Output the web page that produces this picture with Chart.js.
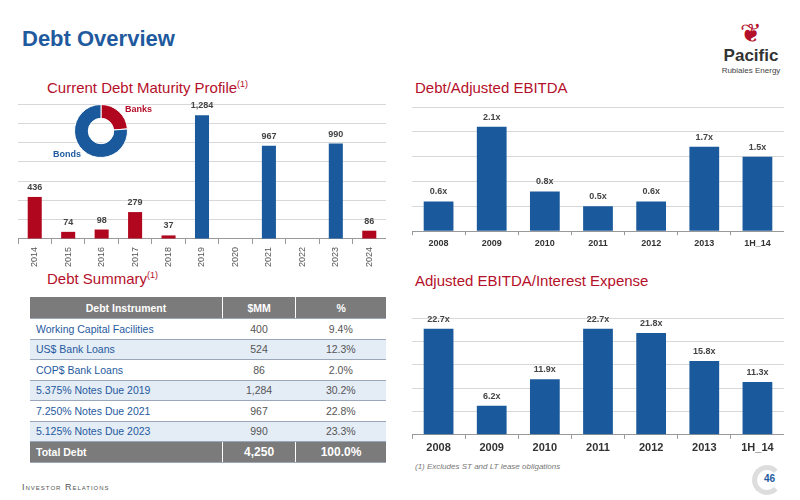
<!DOCTYPE html>
<html>
<head>
<meta charset="utf-8">
<script src="https://cdn.jsdelivr.net/npm/chart.js@4"></script>
<style>
  body { margin: 0; width: 800px; height: 500px; background: #fff; font-family: Arial, "Liberation Sans", sans-serif; position: relative; overflow: hidden; }
  .abs { position: absolute; }
  h1 { position: absolute; left: 22px; top: 26px; margin: 0; font-size: 22px; color: #1f5a9e; font-weight: bold; }
  .sub { position: absolute; font-size: 15px; color: #b5102a; }
  .sub sup { font-size: 9px; }
  table { position: absolute; left: 30px; top: 297px; width: 356px; border-collapse: collapse; font-size: 10.5px; }
  td, th { height: 19.5px; padding: 0 6px; border-bottom: 1px solid #9aa7b8; }
  th { background: #7b7b7b; color: #fff; font-weight: bold; height: 21px; border-right: 1px solid #fff; }
  td { color: #555; text-align: center; }
  td.n { color: #1f5a9e; text-align: left; }
  tr:nth-child(odd) td { background: #e4ecf5; }
  tr.tot td { background: #7b7b7b; color: #fff; font-weight: bold; border-right: 1px solid #fff; }
</style>
</head>
<body>
<h1>Debt Overview</h1>
<div class="abs" style="left:716px;top:20px;width:70px;text-align:center;">
  <div style="font-size:26px;color:#b5102a;line-height:26px;">&#x2766;</div>
  <div style="font-size:17px;font-weight:bold;color:#333;">Pacific</div>
  <div style="font-size:8px;color:#444;">Rubiales Energy</div>
</div>
<div class="sub" style="left:47px;top:79px;">Current Debt Maturity Profile<sup>(1)</sup></div>
<div class="sub" style="left:415px;top:79px;">Debt/Adjusted EBITDA</div>
<div class="sub" style="left:47px;top:270px;">Debt Summary<sup>(1)</sup></div>
<div class="sub" style="left:415px;top:272px;">Adjusted EBITDA/Interest Expense</div>

<canvas id="maturity" class="abs" style="left:18px;top:90px;" width="368" height="180"></canvas>
<canvas id="donut" class="abs" style="left:74px;top:104px;" width="54" height="54"></canvas>
<div class="abs" style="left:125px;top:104px;font-size:9px;font-weight:bold;color:#b5102a;">Banks</div>
<div class="abs" style="left:53px;top:149px;font-size:9px;font-weight:bold;color:#1f5a9e;">Bonds</div>

<canvas id="lev" class="abs" style="left:412px;top:95px;" width="372" height="157"></canvas>
<canvas id="cov" class="abs" style="left:412px;top:303px;" width="372" height="155"></canvas>

<table id="tbl"></table>
<div class="abs" style="left:415px;top:462px;font-size:8px;font-style:italic;color:#777;">(1) Excludes ST and LT lease obligations</div>
<div class="abs" style="left:22px;top:482px;font-size:9px;color:#555;letter-spacing:1px;font-variant:small-caps;">Investor Relations</div>
<div class="abs" style="left:752px;top:465px;width:30px;height:30px;border-radius:50%;border:5px solid #ddd;border-right-color:transparent;box-sizing:border-box;"></div>
<div class="abs" style="left:764px;top:473px;font-size:10px;font-weight:bold;color:#1f5a9e;">46</div>

<script>
const maturityYears = ['2014','2015','2016','2017','2018','2019','2020','2021','2022','2023','2024'];
const banksValues = [436, 74, 98, 279, 37, null, null, null, null, null, 86];
const bondsValues = [null, null, null, null, null, 1284, null, 967, null, 990, null];
const donutLabels = ['Banks', 'Bonds'];
const donutValues = [1010, 3241];

const levYears = ['2008','2009','2010','2011','2012','2013','1H_14'];
const levValues = [0.6, 2.1, 0.8, 0.5, 0.6, 1.7, 1.5];
const covValues = [22.7, 6.2, 11.9, 22.7, 21.8, 15.8, 11.3];

const tableRows = [
  ['Working Capital Facilities', '400', '9.4%'],
  ['US$ Bank Loans', '524', '12.3%'],
  ['COP$ Bank Loans', '86', '2.0%'],
  ['5.375% Notes Due 2019', '1,284', '30.2%'],
  ['7.250% Notes Due 2021', '967', '22.8%'],
  ['5.125% Notes Due 2023', '990', '23.3%']
];
const tableTotal = ['Total Debt', '4,250', '100.0%'];

const RED = '#b0071f', BLUE = '#1a5a9c';

// table
const tbl = document.getElementById('tbl');
let html = '<tr><th style="width:180px">Debt Instrument</th><th>$MM</th><th style="border-right:0">%</th></tr>';
tableRows.forEach(r => { html += `<tr><td class="n">${r[0]}</td><td>${r[1]}</td><td>${r[2]}</td></tr>`; });
html += `<tr class="tot"><td style="text-align:left">${tableTotal[0]}</td><td style="font-size:12px">${tableTotal[1]}</td><td style="font-size:12px;border-right:0">${tableTotal[2]}</td></tr>`;
tbl.innerHTML = html;

// labels above bars
const barLabels = {
  id: 'barLabels',
  afterDatasetsDraw(chart, args, opts) {
    const ctx = chart.ctx;
    ctx.save();
    ctx.font = opts.font || 'bold 9px Arial';
    ctx.fillStyle = '#444';
    ctx.textAlign = 'center';
    ctx.textBaseline = 'bottom';
    chart.data.datasets.forEach((ds, i) => {
      chart.getDatasetMeta(i).data.forEach((bar, j) => {
        const v = ds.data[j];
        if (v == null) return;
        ctx.fillText(opts.fmt(v), bar.x, bar.y - 5);
      });
    });
    ctx.restore();
  }
};

const gridStyle = { color: '#d8d8d8', lineWidth: 1, drawTicks: false };
function yAxis(max, step) {
  return { min: 0, max: max, ticks: { stepSize: step, display: false }, grid: gridStyle, border: { display: false } };
}

new Chart(document.getElementById('maturity'), {
  type: 'bar',
  data: {
    labels: maturityYears,
    datasets: [
      { data: banksValues, backgroundColor: RED },
      { data: bondsValues, backgroundColor: BLUE }
    ]
  },
  options: {
    responsive: false, animation: false,
    layout: { padding: { top: 14, right: 0 } },
    barPercentage: 0.42, categoryPercentage: 1,
    plugins: { legend: { display: false }, tooltip: { enabled: false },
      barLabels: { fmt: v => v.toLocaleString('en-US'), font: 'bold 9px Arial' } },
    scales: {
      x: { stacked: true, grid: { display: true, drawOnChartArea: false, tickLength: 5, color: '#999', offset: true },
           border: { color: '#999' },
           ticks: { maxRotation: 90, minRotation: 90, color: '#555', font: { size: 9 } } },
      y: Object.assign(yAxis(1400, 200), { stacked: true })
    }
  },
  plugins: [barLabels]
});

new Chart(document.getElementById('donut'), {
  type: 'doughnut',
  data: { labels: donutLabels, datasets: [{ data: donutValues, backgroundColor: [RED, BLUE], borderColor: '#fff', borderWidth: 1 }] },
  options: { responsive: false, animation: false, cutout: '48%', plugins: { legend: { display: false }, tooltip: { enabled: false } } }
});

function simpleBar(id, labels, values, max, step, fmt, tickFont, padTop) {
  new Chart(document.getElementById(id), {
    type: 'bar',
    data: { labels: labels, datasets: [{ data: values, backgroundColor: BLUE }] },
    options: {
      responsive: false, animation: false,
      layout: { padding: { top: padTop } },
      barPercentage: 0.56, categoryPercentage: 1,
      plugins: { legend: { display: false }, tooltip: { enabled: false }, barLabels: { fmt: fmt, font: 'bold 9px Arial' } },
      scales: {
        x: { grid: { display: true, drawOnChartArea: false, tickLength: 4, color: '#999', offset: true },
             border: { color: '#999' },
             ticks: { color: '#333', font: tickFont } },
        y: yAxis(max, step)
      }
    },
    plugins: [barLabels]
  });
}
simpleBar('lev', levYears, levValues, 2.5, 0.5, v => v.toFixed(1) + 'x', { size: 9, weight: 'bold' }, 12);
simpleBar('cov', levYears, covValues, 25, 5, v => v.toFixed(1) + 'x', { size: 11, weight: 'bold' }, 15);
</script>
</body>
</html>
